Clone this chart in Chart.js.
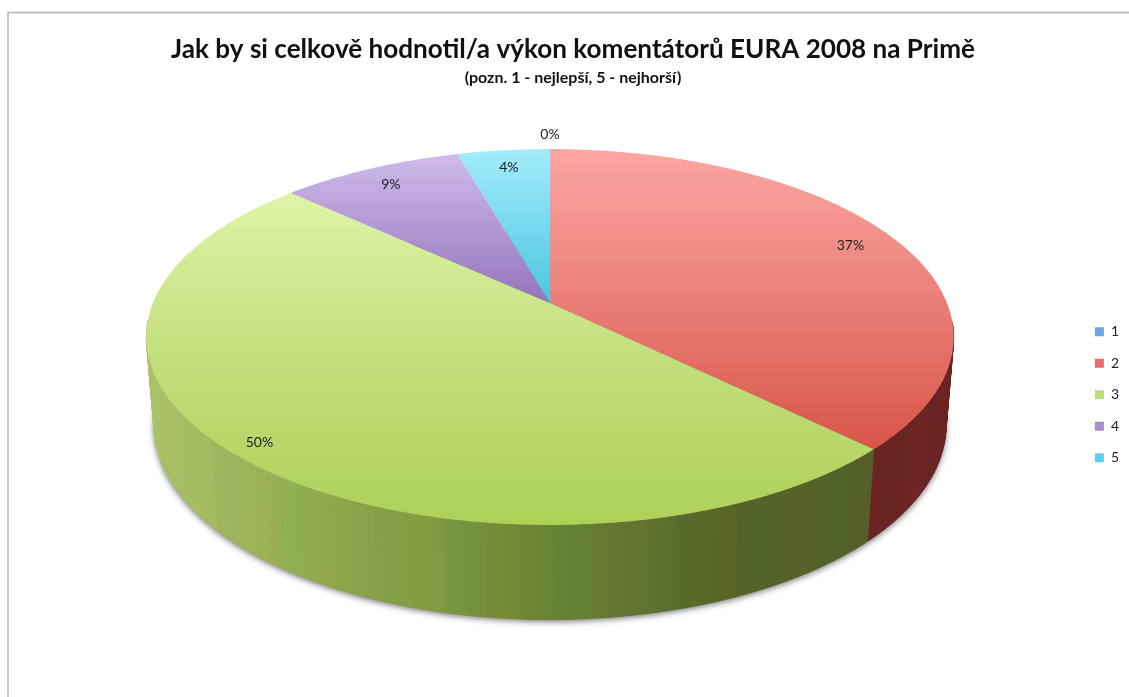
<!DOCTYPE html>
<html><head><meta charset="utf-8">
<style>html,body{margin:0;padding:0;background:#fff;overflow:hidden}canvas{display:block}</style>
<script src="https://cdn.jsdelivr.net/npm/chart.js@4"></script>
</head><body><div style="position:relative;width:1129px;height:697px"><canvas id="c" width="1129" height="697"></canvas></div>
<script>
const categories = ['1','2','3','4','5'];
const values = [0, 37.4, 49.5, 8.7, 4.4];
const percentLabels = ['0%','37%','50%','9%','4%'];
const swatchColors = ['#6ea5e2','#e8706c','#bcd97c','#a68dcb','#5fd0e8'];
const faceTop = ['#8cbcf0','#fca6a2','#deF5a8','#cfbbea','#a2edfa'];
const faceMid = ['#6ea5e2','#ea7f78','#c3de7c','#b297d2','#78d8ee'];
const faceBottom = ['#4f8fd8','#d95548','#aed058','#9575bb','#4bc3df'];

const P = {cx:550, cy:303, R:397, a:181.8, p:0.181, cy2:390, R2:389.5, a2:188};
function top3d(ang, r){const u=r*Math.cos(ang),v=r*Math.sin(ang),w=1-P.p*v;
  return [P.cx+P.R*u/w, P.cy+P.a*v/w];}
function bot3d(ang){const u=Math.cos(ang),v=Math.sin(ang),w=1-P.p*v;
  return [P.cx+P.R2*u/w, P.cy2+P.a2*v/w];}
const greenSide=[[150,[170,194,104]],[300,[147,172,82]],[450,[122,152,64]],[550,[107,130,52]],[650,[95,116,48]],[720,[84,101,40]],[870,[83,96,43]]];
function greenAt(x){for(let i=1;i<greenSide.length;i++){if(x<=greenSide[i][0]){const A=greenSide[i-1],B=greenSide[i],t=Math.max(0,(x-A[0])/(B[0]-A[0]));
  return A[1].map((c,k)=>c+(B[1][k]-c)*t);}}return greenSide[greenSide.length-1][1];}
const bandTint=[[0,0,0],[3,-1,-2],[-2,2,0],[3,0,-3],[-1,0,1],[4,1,-1]];

const pie3d={id:'pie3d',
 beforeDraw(chart){const c=chart.ctx;c.save();c.strokeStyle='#b4b4b4';c.lineWidth=1.5;c.beginPath();c.moveTo(8,697);c.lineTo(8,12.5);c.lineTo(1129,12.5);c.stroke();c.restore();},
 beforeDatasetsDraw(chart){
  const c=chart.ctx, arcs=chart.getDatasetMeta(0).data, step=Math.PI/180;
  c.save();
  c.save();c.shadowColor='rgba(0,0,0,0.55)';c.shadowBlur=6;c.shadowOffsetY=2;c.fillStyle='#777';c.beginPath();
  for(let i=0;i<360;i+=2){const q=bot3d(i*step);i?c.lineTo(q[0],q[1]):c.moveTo(q[0],q[1]);}c.closePath();c.fill();c.restore();
  const quads=[];
  arcs.forEach((el,i)=>{if(values[i]<=0)return;
    for(let a=el.startAngle;a<el.endAngle-1e-6;a+=step){
      if(Math.sin(a)>0.1)quads.push([i,a,Math.min(a+step,el.endAngle)]);}});
  quads.sort((A,B)=>Math.sin(A[1])-Math.sin(B[1]));
  quads.forEach(([i,a0,a1])=>{
    const t0=top3d(a0,1),t1=top3d(a1,1),b0=bot3d(a0),b1=bot3d(a1);
    let rgb;
    if(i===2)rgb=greenAt(t0[0]);else if(i===1)rgb=[105,35,35];else rgb=[90,70,110];
    const tint=bandTint[Math.floor(((a0*180/Math.PI)%360+360)%360/6)%bandTint.length];
    const col='rgb('+rgb.map((v,k)=>Math.round(v+tint[k])).join(',')+')';
    c.fillStyle=col;c.strokeStyle=col;c.lineWidth=0.8;c.beginPath();
    c.moveTo(t0[0],t0[1]);c.lineTo(t1[0],t1[1]);c.lineTo(b1[0],b1[1]);c.lineTo(b0[0],b0[1]);c.closePath();c.fill();c.stroke();
  });
  arcs.forEach((el,i)=>{if(values[i]<=0)return;
    const pts=[[P.cx,P.cy]];
    for(let a=el.startAngle;a<el.endAngle;a+=step/2)pts.push(top3d(a,1));
    pts.push(top3d(el.endAngle,1));
    const ys=pts.map(q=>q[1]);
    const g=c.createLinearGradient(0,Math.min(...ys),0,Math.max(...ys));
    g.addColorStop(0,faceTop[i]);g.addColorStop(0.5,faceMid[i]);g.addColorStop(1,faceBottom[i]);
    c.fillStyle=g;c.beginPath();pts.forEach((q,k)=>k?c.lineTo(q[0],q[1]):c.moveTo(q[0],q[1]));c.closePath();c.fill();
  });
  c.fillStyle='#222';c.font='14px Lato';c.textAlign='center';c.textBaseline='middle';
  arcs.forEach((el,i)=>{const mid=(el.startAngle+el.endAngle)/2;
    const r=values[i]<=0?1.11:(values[i]>45?0.93:0.87);
    const q=top3d(mid,r);c.fillText(percentLabels[i],q[0],q[1]);});
  c.restore();
  return false;
 }};

new Chart(document.getElementById('c'),{type:'pie',
 data:{labels:categories,datasets:[{data:values,backgroundColor:swatchColors,borderWidth:0}]},
 plugins:[pie3d],
 options:{responsive:false,animation:false,
  layout:{padding:{top:34,right:0,bottom:0,left:17}},
  plugins:{tooltip:{enabled:false},
   title:{display:true,text:'Jak by si celkově hodnotil/a výkon komentátorů EURA 2008 na Primě',color:'#111',font:{family:'Lato',size:26.1,weight:'bold',lineHeight:1.2},padding:{top:0,bottom:0}},
   subtitle:{display:true,text:'(pozn. 1 - nejlepší, 5 - nejhorší)',color:'#111',font:{family:'Lato',size:16,weight:'bold',lineHeight:1.2},padding:{top:3,bottom:5}},
   legend:{display:true,position:'right',fullSize:false,labels:{boxWidth:9,boxHeight:9,padding:17.5,color:'#222',font:{family:'Lato',size:14}}}
  }}});
</script></body></html>
